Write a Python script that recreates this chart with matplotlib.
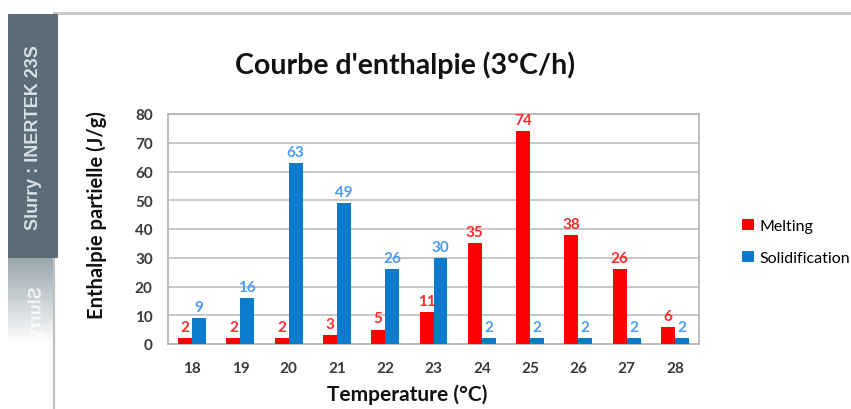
import numpy as np
import matplotlib
matplotlib.use("Agg")
import matplotlib.pyplot as plt
from matplotlib.patches import Rectangle, PathPatch
from matplotlib.textpath import TextPath
from matplotlib.font_manager import FontProperties
from matplotlib.transforms import Affine2D

categories = ["18", "19", "20", "21", "22", "23", "24", "25", "26", "27", "28"]
melting = [2, 2, 2, 3, 5, 11, 35, 74, 38, 26, 6]
solidification = [9, 16, 63, 49, 26, 30, 2, 2, 2, 2, 2]
yticks = [0, 10, 20, 30, 40, 50, 60, 70, 80]
title = "Courbe d'enthalpie (3°C/h)"
xlabel = "Temperature (°C)"
ylabel = "Enthalpie partielle (J/g)"
side_text = "Slurry : INERTEK 23S"
series_names = ["Melting", "Solidification"]

RED = "#ff0000"
BLUE = "#0a7ccb"
RED_LBL = "#ff2a2a"
BLUE_LBL = "#4a9cf5"
FONT = "Lato"

W, H = 851, 410
fig = plt.figure(figsize=(W / 100, H / 100), dpi=100)

# Overlay axes in pixel coordinates for decorations
ov = fig.add_axes([0, 0, 1, 1], zorder=0)
ov.set_xlim(0, W)
ov.set_ylim(H, 0)
ov.axis("off")

# top and left frame lines
ov.plot([53, W], [14, 14], color="#c6c6c6", lw=2, solid_capstyle="butt")
ov.plot([54, 54], [13, H], color="#c0c0c0", lw=1.6, solid_capstyle="butt")

# gray side box
ov.add_patch(Rectangle((8, 15), 50, 244, facecolor="#5b6c76", edgecolor="none", zorder=2))
side_center_y = 138
ov.text(33.5, side_center_y, side_text, rotation=90, ha="center", va="center",
        color="#d7dfe3", fontsize=13, fontweight="bold",
        fontfamily="Liberation Sans", zorder=3)

# reflection gradient
grad = np.linspace(0, 1, 100).reshape(-1, 1)
c0 = np.array([0.60, 0.65, 0.68])
c1 = np.array([1.0, 1.0, 1.0])
img = c0[None, None, :] * (1 - grad[..., None]) + c1[None, None, :] * grad[..., None]
ov.imshow(img, extent=(8, 53, 345, 259), aspect="auto", zorder=1, interpolation="bilinear")

# mirrored text
fp = FontProperties(family="Liberation Sans", weight="bold")
tp = TextPath((0, 0), side_text, size=13 * 100 / 72, prop=fp)
bb = tp.get_extents()
x0 = 40.5
y_start_orig = side_center_y + bb.width / 2
y0 = 2 * 259 - y_start_orig
tr = Affine2D.from_values(0, 1, -1, 0, x0, y0)
mpath = tr.transform_path(tp)
pp = PathPatch(mpath, facecolor="white", edgecolor="none", alpha=0.75, zorder=2)
ov.add_patch(pp)
clip = Rectangle((8, 259), 45, 86, transform=ov.transData, facecolor="none", edgecolor="none")
ov.add_patch(clip)
pp.set_clip_path(clip)

# main axes
ax = fig.add_axes([168 / W, 65 / H, 531 / W, 230 / H], zorder=1)
ax.patch.set_alpha(0)
x = np.arange(len(categories))
bw = 0.29
b1 = ax.bar(x - bw / 2, melting, width=bw, color=RED, zorder=3, label=series_names[0])
b2 = ax.bar(x + bw / 2, solidification, width=bw, color=BLUE, zorder=3, label=series_names[1])

for xi, v in zip(x, melting):
    ax.annotate(str(v), (xi - bw / 2, v), xytext=(0, 3), textcoords="offset points",
                ha="center", va="bottom", color=RED_LBL, fontsize=11,
                fontweight="bold", fontfamily=FONT, zorder=4)
for xi, v in zip(x, solidification):
    ax.annotate(str(v), (xi + bw / 2, v), xytext=(0, 3), textcoords="offset points",
                ha="center", va="bottom", color=BLUE_LBL, fontsize=11,
                fontweight="bold", fontfamily=FONT, zorder=4)

ax.set_xlim(-0.5, len(categories) - 0.5)
ax.set_ylim(0, 80)
ax.set_yticks(yticks)
ax.set_xticks(x)
ax.set_xticklabels(categories)
ax.grid(axis="y", color="#c4c4c4", lw=1.3, zorder=0)
ax.set_axisbelow(True)
for s in ax.spines.values():
    s.set_color("#b8b8b8")
    s.set_linewidth(1.3)
ax.tick_params(axis="both", length=0, labelsize=11, colors="#3a3a3a")
ax.tick_params(axis="y", pad=11)
ax.tick_params(axis="x", pad=12)
for lbl in ax.get_xticklabels() + ax.get_yticklabels():
    lbl.set_fontfamily(FONT)
    lbl.set_fontweight("bold")

fig.text(405 / W, 1 - 65 / H, title, ha="center", va="center", fontsize=20.5,
         fontweight="bold", fontfamily=FONT, color="#111111")
fig.text(407 / W, 1 - 395 / H, xlabel, ha="center", va="center", fontsize=15,
         fontweight="bold", fontfamily=FONT, color="#111111")
fig.text(97 / W, 1 - 215 / H, ylabel, ha="center", va="center", rotation=90,
         fontsize=14.5, fontweight="bold", fontfamily=FONT, color="#111111")

fig.legend(handles=[b1, b2], labels=series_names, loc="center left",
           bbox_to_anchor=(728 / W, 1 - 243 / H), frameon=False,
           handlelength=0.75, handleheight=0.75,
           handletextpad=0.35, labelspacing=1.1,
           prop={"family": FONT, "size": 11.5})

fig.savefig("out.png", dpi=100)
